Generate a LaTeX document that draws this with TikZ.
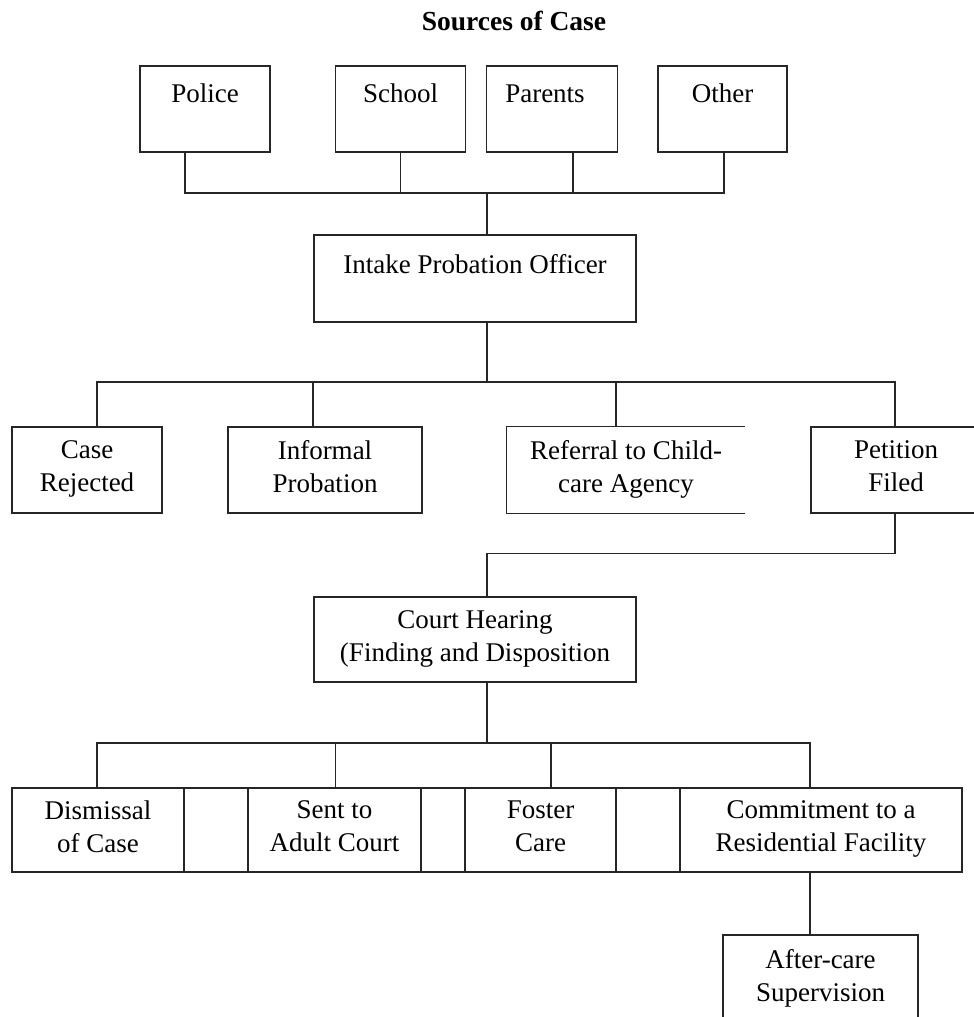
\documentclass[tikz,border=0pt]{standalone}
\usepackage{fontspec}
\setmainfont{Liberation Serif}
% line strut used to even out the vertical placement of text in boxes
\newcommand\lnstrut{\rule[-7pt]{0pt}{30pt}}
\begin{document}
\begin{tikzpicture}[x=1pt,y=-1pt,
  txt/.style={font=\fontsize{27}{33}\selectfont, align=center, inner sep=0pt, text=black,
    execute at begin node=\lnstrut, execute at end node=\lnstrut},
  box/.style={txt, draw=black!85, line width=1.3pt},
  link/.style={draw=black!85, line width=1.3pt},
]
\useasboundingbox (0,0) rectangle (974,1017);
\clip (0,0) rectangle (974,1017);

% title
\node[txt, font=\bfseries\fontsize{27.5}{33}\selectfont] (title) at (514,22) {Sources of Case};

% sources of a case
\node[box, minimum width=130pt, minimum height=86pt] (police)  at (205,109)   {};
\node[box, minimum width=130pt, minimum height=86pt] (school)  at (400.5,109) {};
\node[box, minimum width=131pt, minimum height=86pt] (parents) at (552,109)   {};
\node[box, minimum width=129pt, minimum height=86pt] (other)   at (722.5,109) {};
\node[txt] (police-t)  at (205,94)   {Police};
\node[txt] (school-t)  at (400.5,94) {School};
\node[txt] (parents-t) at (545,94)   {Parents};
\node[txt] (other-t)   at (722.5,94) {Other};

% intake
\node[box, minimum width=322pt, minimum height=87pt] (intake) at (475,278.5) {};
\node[txt] (intake-t) at (475,265) {Intake Probation Officer};

% intake outcomes
\node[box, minimum width=150pt, minimum height=86pt] (rejected) at (87,470)  {Case\\Rejected};
\node[box, minimum width=194pt, minimum height=86pt] (informal) at (325,470) {Informal\\Probation};
\node[txt, minimum width=238pt, minimum height=86pt] (referral) at (626,470) {Referral to Child-\\care Agency};
\draw[link] (referral.north east) -- (referral.north west) -- (referral.south west) -- (referral.south east);
\node[box, minimum width=170pt, minimum height=86pt] (petition) at (896,470) {Petition\\Filed};

% court
\node[box, minimum width=322pt, minimum height=85pt] (court) at (475,639.5) {Court Hearing\\(Finding and Disposition};

% dispositions
\node[box, minimum width=172pt, minimum height=84pt] (dismissal) at (98,830)    {Dismissal\\of Case};
\node[box, minimum width=64pt,  minimum height=84pt] (cell1)     at (216,830)   {};
\node[box, minimum width=173pt, minimum height=84pt] (sent)      at (334.5,830) {Sent to\\Adult Court};
\node[box, minimum width=44pt,  minimum height=84pt] (cell2)     at (443,830)   {};
\node[box, minimum width=151pt, minimum height=84pt] (foster)    at (540.5,830) {Foster\\Care};
\node[box, minimum width=64pt,  minimum height=84pt] (cell3)     at (648,830)   {};
\node[box, minimum width=282pt, minimum height=84pt] (commit)    at (821,830)   {Commitment to a\\Residential Facility};

% after-care
\node[box, minimum width=195pt, minimum height=87pt] (aftercare) at (820.5,978.5) {After-care\\Supervision};

% connectors: sources to intake
\coordinate (srcbus) at (487,193);
\draw[link] ([xshift=-20pt]police.south) |- ([xshift=1.5pt]other.south |- srcbus) -- ([xshift=1.5pt]other.south);
\draw[link] (school.south) -- (school.south |- srcbus);
\draw[link] ([xshift=21pt]parents.south) -- ([xshift=21pt]parents.south |- srcbus);
\draw[link] (srcbus) -- (srcbus |- intake.north);

% connectors: intake to outcomes
\coordinate (outbus) at (487,382);
\draw[link] (intake.south -| outbus) -- (outbus);
\draw[link] ([xshift=10pt]rejected.north) |- ([xshift=-1pt]petition.north |- outbus) -- ([xshift=-1pt]petition.north);
\draw[link] ([xshift=-12pt]informal.north) -- ([xshift=-12pt]informal.north |- outbus);
\draw[link] ([xshift=-10pt]referral.north) -- ([xshift=-10pt]referral.north |- outbus);

% petition to court
\draw[link] ([xshift=-1pt]petition.south) -- ++(0,40) -| ([xshift=12pt]court.north);

% connectors: court to dispositions
\coordinate (outbus2) at (487,743);
\draw[link] ([xshift=12pt]court.south) -- ([xshift=12pt]court.south |- outbus2);
\draw[link] ([xshift=-1pt]dismissal.north) |- ([xshift=-11pt]commit.north |- outbus2) -- ([xshift=-11pt]commit.north);
\draw[link] ([xshift=1pt]sent.north) -- ([xshift=1pt]sent.north |- outbus2);
\draw[link] ([xshift=10.5pt]foster.north) -- ([xshift=10.5pt]foster.north |- outbus2);

% commitment to after-care
\draw[link] ([xshift=-11pt]commit.south) -- ([xshift=-11pt]commit.south |- aftercare.north);
\end{tikzpicture}
\end{document}
